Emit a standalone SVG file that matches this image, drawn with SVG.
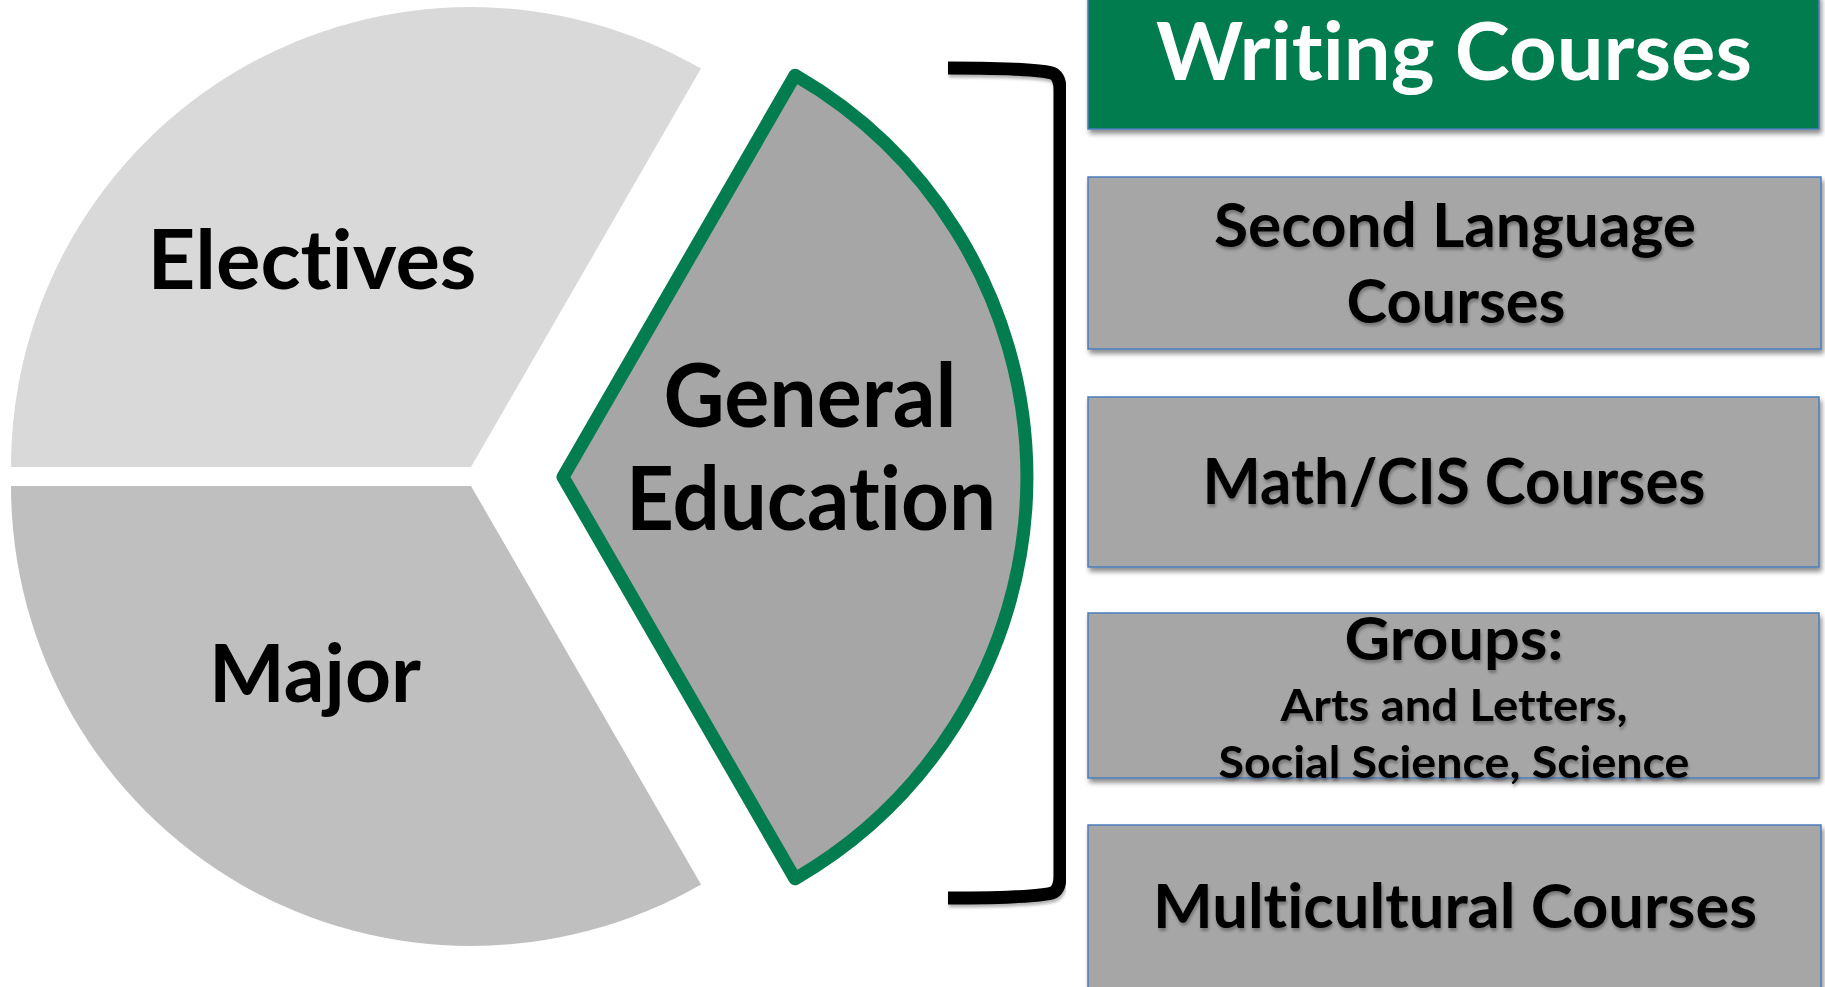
<svg xmlns="http://www.w3.org/2000/svg" width="1825" height="987" viewBox="0 0 1825 987">
<defs>
<filter id="sh" x="-5%" y="-10%" width="110%" height="130%">
<feGaussianBlur in="SourceAlpha" stdDeviation="2.5"/>
<feOffset dx="2" dy="4" result="b"/>
<feComponentTransfer><feFuncA type="linear" slope="0.45"/></feComponentTransfer>
<feMerge><feMergeNode/><feMergeNode in="SourceGraphic"/></feMerge>
</filter>
<filter id="tsh" x="-5%" y="-20%" width="110%" height="150%">
<feGaussianBlur in="SourceAlpha" stdDeviation="1.5"/>
<feOffset dx="1" dy="3" result="b"/>
<feComponentTransfer><feFuncA type="linear" slope="0.3"/></feComponentTransfer>
<feMerge><feMergeNode/><feMergeNode in="SourceGraphic"/></feMerge>
</filter>
</defs>
<style>
.t{font-family:Lato,"Open Sans","Liberation Sans",sans-serif;font-weight:700;text-anchor:middle;fill:#000;font-variant-ligatures:none;font-feature-settings:"liga" 0,"clig" 0}
.w{fill:#fff}
.box{fill:#a6a6a6;stroke:#4a7ebb;stroke-width:1.5}
.green{fill:#037c50}
</style>
<rect width="1825" height="987" fill="#fff"/>
<g id="electives">
<path d="M471,467 L11,467 A460,460 0 0 1 701,68.6 Z" fill="#d9d9d9"/>
<text class="t" x="312" y="289" font-size="82" textLength="329" lengthAdjust="spacingAndGlyphs">Electives</text>
</g>
<g id="major">
<path d="M471,486 L11,486 A460,460 0 0 0 701,884.4 Z" fill="#bfbfbf"/>
<text class="t" x="315" y="702" font-size="80" textLength="212" lengthAdjust="spacingAndGlyphs">Major</text>
</g>
<g id="gen-ed">
<path d="M563,477 L795,75.2 A464,464 0 0 1 795,878.8 Z" fill="#a6a6a6" stroke="#037c50" stroke-width="13" stroke-linejoin="round"/>
<text class="t" x="810" y="427" font-size="88" textLength="293" lengthAdjust="spacingAndGlyphs">General</text>
<text class="t" x="811" y="530" font-size="88" textLength="370" lengthAdjust="spacingAndGlyphs">Education</text>
</g>
<g id="connectors">
<path d="M948,68 C1000,68 1040,70 1052,73 Q1060,76 1060,90 L1060,876 Q1060,890 1052,893 C1040,896 1000,898 948,898" fill="none" stroke="#000" stroke-width="13" filter="url(#tsh)"/>
</g>
<g id="writing">
<rect class="green" x="1088" y="-5" width="731" height="134" stroke="#4a7ebb" stroke-width="1.5" filter="url(#sh)"/>
<text class="t w" x="1454" y="80" font-size="80" textLength="596" lengthAdjust="spacingAndGlyphs">Writing Courses</text>
</g>
<g id="second-language">
<rect class="box" x="1088" y="177" width="733" height="172" filter="url(#sh)"/>
<text class="t" x="1455" y="247" font-size="62" textLength="482" lengthAdjust="spacingAndGlyphs" filter="url(#tsh)">Second Language</text>
<text class="t" x="1456" y="323" font-size="62" textLength="219" lengthAdjust="spacingAndGlyphs" filter="url(#tsh)">Courses</text>
</g>
<g id="math-cis">
<rect class="box" x="1088" y="397" width="731" height="170" filter="url(#sh)"/>
<text class="t" x="1454" y="504" font-size="64" textLength="503" lengthAdjust="spacingAndGlyphs" filter="url(#tsh)">Math/CIS Courses</text>
</g>
<g id="groups">
<rect class="box" x="1088" y="613" width="731" height="165" filter="url(#sh)"/>
<text class="t" x="1454" y="660" font-size="60" textLength="219" lengthAdjust="spacingAndGlyphs" filter="url(#tsh)">Groups:</text>
<text class="t" x="1454" y="721" font-size="44" textLength="347" lengthAdjust="spacingAndGlyphs" filter="url(#tsh)">Arts and Letters,</text>
<text class="t" x="1454" y="778" font-size="44" textLength="471" lengthAdjust="spacingAndGlyphs" filter="url(#tsh)">Social Science, Science</text>
</g>
<g id="multicultural">
<rect class="box" x="1088" y="825" width="733" height="170" filter="url(#sh)"/>
<text class="t" x="1455" y="928" font-size="62" textLength="604" lengthAdjust="spacingAndGlyphs" filter="url(#tsh)">Multicultural Courses</text>
</g>
</svg>
